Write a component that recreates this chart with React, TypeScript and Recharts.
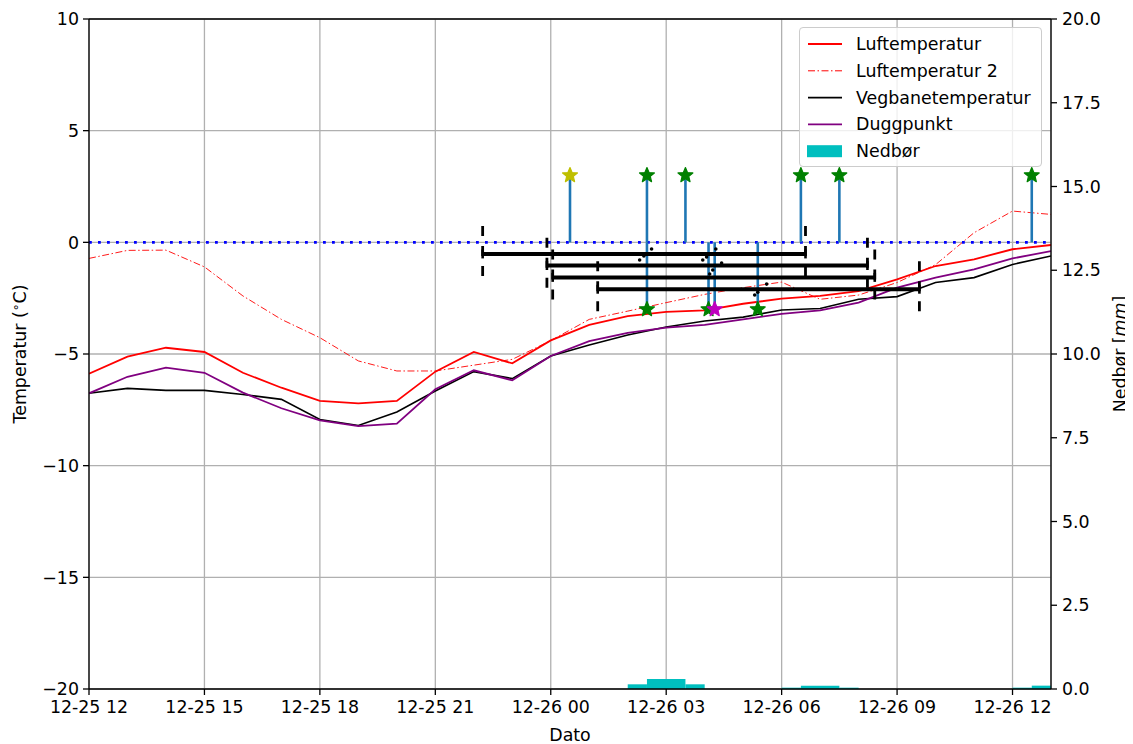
import React from 'react';
import {
  ComposedChart,
  Line,
  XAxis,
  YAxis,
  CartesianGrid,
  ReferenceLine,
  ReferenceArea,
  ReferenceDot,
  Label,
} from 'recharts';

// ---------- data ----------
const hours = [0, 1, 2, 3, 4, 5, 6, 7, 8, 9, 10, 11, 12, 13, 14, 15, 16, 17, 18, 19, 20, 21, 22, 23, 24, 25];
const xTicks = [0, 3, 6, 9, 12, 15, 18, 21, 24];
const xTickLabels = ['12-25 12', '12-25 15', '12-25 18', '12-25 21', '12-26 00', '12-26 03', '12-26 06', '12-26 09', '12-26 12'];
const tempTicks = [-20, -15, -10, -5, 0, 5, 10];
const precipTicks = [0, 2.5, 5, 7.5, 10, 12.5, 15, 17.5, 20];

const luftemperatur = [-5.88, -5.12, -4.72, -4.91, -5.84, -6.51, -7.1, -7.21, -7.1, -5.79, -4.91, -5.42, -4.39, -3.7, -3.3, -3.11, -3.05, -2.75, -2.52, -2.4, -2.18, -1.66, -1.06, -0.76, -0.31, -0.12];
const luftemperatur2 = [-0.72, -0.36, -0.35, -1.1, -2.4, -3.45, -4.27, -5.31, -5.76, -5.76, -5.5, -5.24, -4.4, -3.45, -3.08, -2.7, -2.33, -2.03, -1.78, -2.55, -2.36, -1.8, -1.0, 0.43, 1.4, 1.25];
const vegbanetemperatur = [-6.76, -6.54, -6.63, -6.63, -6.81, -7.03, -7.93, -8.2, -7.6, -6.66, -5.79, -6.1, -5.09, -4.6, -4.15, -3.79, -3.52, -3.35, -3.03, -2.96, -2.55, -2.43, -1.8, -1.58, -0.99, -0.61];
const duggpunkt = [-6.76, -6.02, -5.61, -5.84, -6.73, -7.43, -7.97, -8.23, -8.12, -6.58, -5.73, -6.18, -5.09, -4.42, -4.05, -3.82, -3.7, -3.45, -3.2, -3.05, -2.7, -2.03, -1.58, -1.21, -0.72, -0.39];

const precipStart = [14.0, 14.5, 15.5, 18.0, 18.5, 19.5, 24.0, 24.5];
const precipEnd = [14.5, 15.5, 16.0, 18.5, 19.5, 20.0, 24.5, 25.0];
const precipValue = [0.14, 0.3, 0.14, 0.04, 0.1, 0.04, 0.04, 0.1];

const upStemX = [12.5, 14.5, 15.5, 18.5, 19.5, 24.5];
const upStemColor = ['#bfbf00', '#008000', '#008000', '#008000', '#008000', '#008000'];
const downStemX = [14.5, 16.1, 16.26, 17.38];
const downStemColor = ['#008000', '#008000', '#bf00bf', '#008000'];
const stemTop = 3;
const stemBottom = -3;

const intervalStart = [10.23, 11.9, 12.05, 13.22];
const intervalEnd = [18.62, 20.23, 20.42, 21.58];
const intervalLevel = [-0.52, -1.04, -1.57, -2.1];

const dotX = [14.31, 14.42, 14.62, 15.95, 16.05, 16.29, 16.13, 16.21, 16.44, 17.3, 17.38, 17.61];
const dotY = [-0.79, -0.61, -0.3, -0.79, -0.66, -0.3, -1.42, -1.24, -0.93, -2.36, -2.23, -1.87];

const tableData = hours.map((h, i) => ({
  h,
  luft: luftemperatur[i],
  luft2: luftemperatur2[i],
  veg: vegbanetemperatur[i],
  dugg: duggpunkt[i],
}));

// ---------- styling ----------
const FONT = 'DejaVu Sans, sans-serif';
const FS = 17.4;
const W = 1117;
const H = 736;
const GRID = '#b0b0b0';
const STEM = '#1f77b4';
const PRECIP = '#00bfbf';

const starPoints = (cx: number, cy: number, R: number, r: number) => {
  const pts: string[] = [];
  for (let k = 0; k < 10; k++) {
    const rad = k % 2 === 0 ? R : r;
    const a = -Math.PI / 2 + (k * Math.PI) / 5;
    pts.push(`${cx + rad * Math.cos(a)},${cy + rad * Math.sin(a)}`);
  }
  return pts.join(' ');
};

const makeStar = (color: string) => (props: any) => (
  <polygon
    points={starPoints(props.cx, props.cy, 7.8, 3.5)}
    fill={color}
    stroke={color}
    strokeWidth={1.2}
    strokeLinejoin="round"
  />
);

const smallDot = (props: any) => <circle cx={props.cx} cy={props.cy} r={1.8} fill="#000" />;

const fmtTemp = (v: number) => (v < 0 ? '\u2212' + Math.abs(v) : String(v));

const LegendBox = () => {
  const rows = [
    { name: 'Luftemperatur', kind: 'line', color: '#ff0000', w: 1.8, dash: undefined as string | undefined },
    { name: 'Luftemperatur 2', kind: 'line', color: '#ff0000', w: 1, dash: '7 2.5 1.5 2.5' },
    { name: 'Vegbanetemperatur', kind: 'line', color: '#000000', w: 1.8, dash: undefined },
    { name: 'Duggpunkt', kind: 'line', color: '#800080', w: 1.8, dash: undefined },
    { name: 'Nedbør', kind: 'patch', color: PRECIP, w: 0, dash: undefined },
  ];
  return (
    <div
      style={{
        position: 'absolute',
        left: 791,
        top: 19,
        width: 243,
        height: 140,
        background: 'rgba(255,255,255,0.8)',
        border: '1px solid #cccccc',
        borderRadius: 4,
        boxSizing: 'border-box',
      }}
    >
      <svg width={243} height={140} style={{ position: 'absolute', left: -1, top: -1 }}>
        {rows.map((r, i) => {
          const cy = 17 + i * 26.8;
          return (
            <g key={r.name}>
              {r.kind === 'line' ? (
                <line x1={9} x2={43} y1={cy} y2={cy} stroke={r.color} strokeWidth={r.w} strokeDasharray={r.dash} />
              ) : (
                <rect x={8} y={cy - 6} width={35} height={12} fill={r.color} />
              )}
              <text x={57} y={cy} dominantBaseline="central" fontFamily={FONT} fontSize={FS} fill="#000">
                {r.name}
              </text>
            </g>
          );
        })}
      </svg>
    </div>
  );
};

export default function App() {
  return (
    <div style={{ position: 'relative', width: W, height: H }}>
      <style>{'.recharts-surface{overflow:visible}'}</style>
      <ComposedChart
        width={W}
        height={H}
        data={tableData}
        margin={{ top: 11, right: 0, bottom: 0, left: 0 }}
        style={{ fontFamily: FONT }}
      >
        <CartesianGrid yAxisId="t" stroke={GRID} strokeWidth={1.3} />
        <XAxis
          dataKey="h"
          type="number"
          domain={[0, 25]}
          ticks={xTicks}
          allowDataOverflow
          height={55}
          interval={0}
          tickFormatter={(v: number) => xTickLabels[xTicks.indexOf(v)]}
          tick={{ fill: '#000', fontSize: FS, fontFamily: FONT }}
          tickLine={{ stroke: '#000', strokeWidth: 1.3 }}
          axisLine={{ stroke: '#000', strokeWidth: 1.3 }}
          tickSize={6}
          tickMargin={6}
        >
          <Label
            content={() => (
              <text x={562} y={733} textAnchor="middle" fontFamily={FONT} fontSize={FS} fill="#000">
                Dato
              </text>
            )}
          />
        </XAxis>
        <YAxis
          yAxisId="t"
          type="number"
          domain={[-20, 10]}
          ticks={tempTicks}
          allowDataOverflow
          width={81}
          interval={0}
          tickFormatter={fmtTemp}
          tick={{ fill: '#000', fontSize: FS, fontFamily: FONT }}
          tickLine={{ stroke: '#000', strokeWidth: 1.3 }}
          axisLine={{ stroke: '#000', strokeWidth: 1.3 }}
          tickSize={6}
          tickMargin={4}
        >
          <Label
            content={() => (
              <text
                x={18}
                y={346}
                transform="rotate(-90 18 346)"
                textAnchor="middle"
                fontFamily={FONT}
                fontSize={FS}
                fill="#000"
              >
                Temperatur (
                <tspan dy={-6} fontSize={12.5}>∘</tspan>
                <tspan dy={6}>C)</tspan>
              </text>
            )}
          />
        </YAxis>
        <YAxis
          yAxisId="p"
          orientation="right"
          type="number"
          domain={[0, 20]}
          ticks={precipTicks}
          allowDataOverflow
          width={74}
          interval={0}
          tickFormatter={(v: number) => v.toFixed(1)}
          tick={{ fill: '#000', fontSize: FS, fontFamily: FONT }}
          tickLine={{ stroke: '#000', strokeWidth: 1.3 }}
          axisLine={{ stroke: '#000', strokeWidth: 1.3 }}
          tickSize={6}
          tickMargin={5}
        >
          <Label
            content={() => (
              <text
                x={1118}
                y={346}
                transform="rotate(-90 1118 346)"
                textAnchor="middle"
                fontFamily={FONT}
                fontSize={FS}
                fill="#000"
              >
                Nedbør [<tspan fontStyle="italic">mm</tspan>]
              </text>
            )}
          />
        </YAxis>

        {/* top spine */}
        <ReferenceLine yAxisId="t" y={10} stroke="#000" strokeWidth={1.3} />

        {/* precipitation */}
        {precipValue.map((v, i) => (
          <ReferenceArea
            key={'p' + i}
            yAxisId="p"
            x1={precipStart[i]}
            x2={precipEnd[i]}
            y1={0}
            y2={v}
            fill={PRECIP}
            fillOpacity={1}
            stroke="none"
            ifOverflow="visible"
          />
        ))}

        <Line yAxisId="t" dataKey="luft" stroke="#ff0000" strokeWidth={1.8} dot={false} isAnimationActive={false} />
        <Line
          yAxisId="t"
          dataKey="luft2"
          stroke="#ff0000"
          strokeWidth={0.9}
          strokeDasharray="7 2.5 1.5 2.5"
          dot={false}
          isAnimationActive={false}
        />
        <Line yAxisId="t" dataKey="veg" stroke="#000000" strokeWidth={1.6} dot={false} isAnimationActive={false} />
        <Line yAxisId="t" dataKey="dugg" stroke="#800080" strokeWidth={1.8} dot={false} isAnimationActive={false} />

        {/* zero line */}
        <ReferenceLine yAxisId="t" y={0} stroke="#0000ff" strokeWidth={2.8} strokeDasharray="2.8 6.2" />

        {/* stems */}
        {upStemX.map((x, i) => (
          <ReferenceLine
            key={'us' + i}
            yAxisId="t"
            segment={[{ x, y: 0 }, { x, y: stemTop }]}
            stroke={STEM}
            strokeWidth={2.6}
          />
        ))}
        {downStemX.map((x, i) => (
          <ReferenceLine
            key={'ds' + i}
            yAxisId="t"
            segment={[{ x, y: 0 }, { x, y: stemBottom }]}
            stroke={STEM}
            strokeWidth={2.6}
          />
        ))}

        {/* intervals */}
        {intervalLevel.map((lv, i) => (
          <ReferenceLine
            key={'iv' + i}
            yAxisId="t"
            segment={[{ x: intervalStart[i], y: lv }, { x: intervalEnd[i], y: lv }]}
            stroke="#000"
            strokeWidth={4}
          />
        ))}
        {intervalLevel.map((lv, i) =>
          [intervalStart[i], intervalEnd[i]].map((x, j) => (
            <ReferenceLine
              key={'cap' + i + '-' + j}
              yAxisId="t"
              segment={[{ x, y: lv + 0.2 }, { x, y: lv - 0.2 }]}
              stroke="#000"
              strokeWidth={2.6}
            />
          ))
        )}
        {intervalLevel.map((lv, i) =>
          [intervalStart[i], intervalEnd[i]].map((x, j) => (
            <ReferenceLine
              key={'dash' + i + '-' + j}
              yAxisId="t"
              segment={[{ x, y: lv + 1.25 }, { x, y: lv - 1.0 }]}
              stroke="#000"
              strokeWidth={2.8}
              strokeDasharray="10 10"
            />
          ))
        )}

        {/* small dots */}
        {dotX.map((x, i) => (
          <ReferenceDot key={'d' + i} yAxisId="t" x={x} y={dotY[i]} shape={smallDot} />
        ))}

        {/* stars */}
        {upStemX.map((x, i) => (
          <ReferenceDot key={'ust' + i} yAxisId="t" x={x} y={stemTop} shape={makeStar(upStemColor[i])} />
        ))}
        {downStemX.map((x, i) => (
          <ReferenceDot key={'dst' + i} yAxisId="t" x={x} y={stemBottom} shape={makeStar(downStemColor[i])} />
        ))}
      </ComposedChart>
      <LegendBox />
    </div>
  );
}
